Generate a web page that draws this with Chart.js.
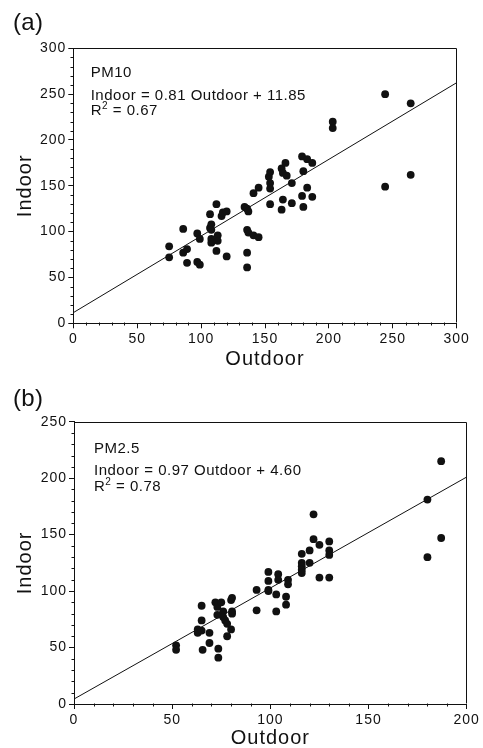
<!DOCTYPE html>
<html>
<head>
<meta charset="utf-8">
<script src="https://cdn.jsdelivr.net/npm/chart.js@4/dist/chart.umd.min.js"></script>
<style>
  html, body { margin: 0; padding: 0; background: #fff; overflow: hidden; }
  #wrap { position: relative; width: 483px; height: 748px; }
  canvas { position: absolute; left: 0; }
  #cA { top: 0; }
  #cB { top: 374px; }
</style>
</head>
<body>
<div id="wrap">
  <canvas id="cA" width="483" height="374"></canvas>
  <canvas id="cB" width="483" height="374"></canvas>
</div>
<script>
// ---------- data ----------
const pm10Outdoor = [75,75,86,86,89,89,97,97,99,99,107,107,108,108,108,108,112,113,113,112,116,117,120,120,134,136,137,136,137,141,145,136,136,141,145,153,154,154,154,154,163,164,166,167,164,163,171,171,179,183,187,180,183,179,187,180,203,203,244,244,264,264];
const pm10Indoor  = [84,72,103,77,81,66,98,67,64,92,119,104,108,102,92,88,130,96,90,79,117,121,122,73,127,125,122,102,99,96,94,77,61,142,148,160,165,153,147,130,169,164,175,161,135,124,153,131,182,179,175,166,148,139,138,127,220,213,250,149,240,162];
const pm10FitX = [0, 300];
const pm10FitY = [11.6, 262.5];

const pm25Outdoor = [52,52,63,63,65,65,65,65.5,69,69,72,73,75,73,76,76,77,78,73.5,73.5,78,80,80.5,80.5,80.5,80,93,93,99,99,99,99,103,103,104,104,109,109,108,108,116,116,116,116,116,120,120,122,122,125,125,130,130,130,130,180,180,187,187];
const pm25Indoor  = [52,48,66,63,87,74,65,48,63,54,90,86,90,79,82,77,74,71,49,41,60,92,94,82,80,66,101,83,117,109,101,100,97,82,115,110,110,106,95,88,133,125,122,119,116,136,125,168,146,141,112,144,136,132,112,181,130,215,147];
const pm25FitX = [0, 200];
const pm25FitY = [4.4, 201];

const xTitle = 'Outdoor';
const yTitle = 'Indoor';
const panelA = { tag: '(a)', name: 'PM10', eq: 'Indoor = 0.81 Outdoor + 11.85', r2: '0.67' };
const panelB = { tag: '(b)', name: 'PM2.5', eq: 'Indoor = 0.97 Outdoor + 4.60', r2: '0.78' };
const axisA = { xMax: 300, yMax: 300, major: 50, minor: 10 };
const axisB = { xMax: 200, yMax: 250, major: 50, minor: 10 };

// ---------- rendering ----------
const FONT = '"Liberation Sans", Arial, Helvetica, sans-serif';
const INK = '#111111';
Chart.defaults.font.family = FONT;
Chart.defaults.color = INK;

const spacingPlugin = {
  id: 'spacing',
  beforeLayout(chart) { chart.ctx.letterSpacing = '1px'; },
  beforeDraw(chart) { chart.ctx.letterSpacing = '1px'; }
};

const framePlugin = {
  id: 'frame',
  afterDraw(chart, args, opts) {
    const ctx = chart.ctx;
    const a = chart.chartArea;
    const xs = chart.scales.x, ys = chart.scales.y;
    ctx.save();
    ctx.strokeStyle = INK;
    ctx.lineWidth = 1;
    ctx.beginPath();
    const L = Math.round(a.left) + 0.5, R = Math.round(a.right) - 0.5;
    const T = Math.round(a.top) + 0.5, B = Math.round(a.bottom) - 0.5;
    ctx.moveTo(L, T); ctx.lineTo(R, T); ctx.lineTo(R, B);
    const step = opts.minor, major = opts.major;
    for (let v = xs.min + step; v < xs.max; v += step) {
      if (v % major === 0) continue;
      const px = Math.round(xs.getPixelForValue(v)) + 0.5;
      ctx.moveTo(px, B); ctx.lineTo(px, B + 3);
    }
    for (let v = ys.min + step; v < ys.max; v += step) {
      if (v % major === 0) continue;
      const py = Math.round(ys.getPixelForValue(v)) + 0.5;
      ctx.moveTo(L, py); ctx.lineTo(L - 3, py);
    }
    ctx.stroke();

    const t = opts.text;
    ctx.fillStyle = INK;
    ctx.textAlign = 'left';
    ctx.textBaseline = 'alphabetic';
    ctx.letterSpacing = '0.3px';
    ctx.font = '24px ' + FONT;
    ctx.fillText(t.tag, 13, opts.tagY);
    ctx.letterSpacing = '0.5px';
    ctx.font = '15px ' + FONT;
    const x0 = a.left + opts.dx;
    ctx.fillText(t.name, x0, a.top + opts.y1);
    ctx.fillText(t.eq, x0, a.top + opts.y2);
    const yR = a.top + opts.y3;
    ctx.fillText('R', x0, yR);
    const wR = ctx.measureText('R').width;
    ctx.font = '10px ' + FONT;
    ctx.fillText('2', x0 + wR, yR - 6);
    const w2 = ctx.measureText('2').width;
    ctx.font = '15px ' + FONT;
    ctx.fillText(' = ' + t.r2, x0 + wR + w2, yR);
    ctx.restore();
  }
};

function makeChart(id, xs, ys, fx, fy, axis, lay, frame) {
  const pts = xs.map((v, i) => ({ x: v, y: ys[i] }));
  const fit = fx.map((v, i) => ({ x: v, y: fy[i] }));
  const tickFont = { size: 14, family: FONT };
  return new Chart(document.getElementById(id), {
    type: 'scatter',
    data: {
      datasets: [
        { data: pts, pointRadius: 3.9, pointBackgroundColor: INK, pointBorderWidth: 0, showLine: false },
        { data: fit, showLine: true, pointRadius: 0, borderColor: INK, borderWidth: 1, fill: false }
      ]
    },
    options: {
      responsive: false,
      animation: false,
      devicePixelRatio: 1,
      events: [],
      layout: { padding: { left: 0, top: lay.top, right: lay.right, bottom: 0 } },
      plugins: {
        legend: { display: false },
        tooltip: { enabled: false },
        frame: frame
      },
      scales: {
        x: {
          type: 'linear', min: 0, max: axis.xMax,
          ticks: { stepSize: axis.major, font: tickFont, color: INK, padding: lay.xPad, maxRotation: 0 },
          grid: { drawOnChartArea: false, drawTicks: true, tickLength: 5, color: INK, tickColor: INK },
          border: { display: true, color: INK, width: 1 },
          title: { display: true, text: xTitle, color: INK, font: { size: 20, family: FONT, lineHeight: 1 }, padding: { top: 0, bottom: lay.xTitlePad } },
          afterFit(s) { s.height = lay.xH; }
        },
        y: {
          type: 'linear', min: 0, max: axis.yMax,
          ticks: { stepSize: axis.major, font: tickFont, color: INK, padding: 2 },
          grid: { drawOnChartArea: false, drawTicks: true, tickLength: 5, color: INK, tickColor: INK },
          border: { display: true, color: INK, width: 1 },
          title: { display: true, text: yTitle, color: INK, font: { size: 20, family: FONT, lineHeight: 1 }, padding: { top: 15, bottom: 0 } },
          afterFit(s) { s.width = lay.yW; }
        }
      }
    },
    plugins: [spacingPlugin, framePlugin]
  });
}

makeChart('cA', pm10Outdoor, pm10Indoor, pm10FitX, pm10FitY, axisA,
  { top: 48.3, right: 26.3, yW: 73.3, xH: 50.7, xPad: 2, xTitlePad: 5 },
  { minor: axisA.minor, major: axisA.major, text: panelA, tagY: 30, dx: 17.4, y1: 28.7, y2: 51.7, y3: 66.7 });

makeChart('cB', pm25Outdoor, pm25Indoor, pm25FitX, pm25FitY, axisB,
  { top: 47.7, right: 16.3, yW: 74, xH: 44, xPad: 3, xTitlePad: 0 },
  { minor: axisB.minor, major: axisB.major, text: panelB, tagY: 32, dx: 20, y1: 31.3, y2: 53.3, y3: 69.3 });
</script>
</body>
</html>
